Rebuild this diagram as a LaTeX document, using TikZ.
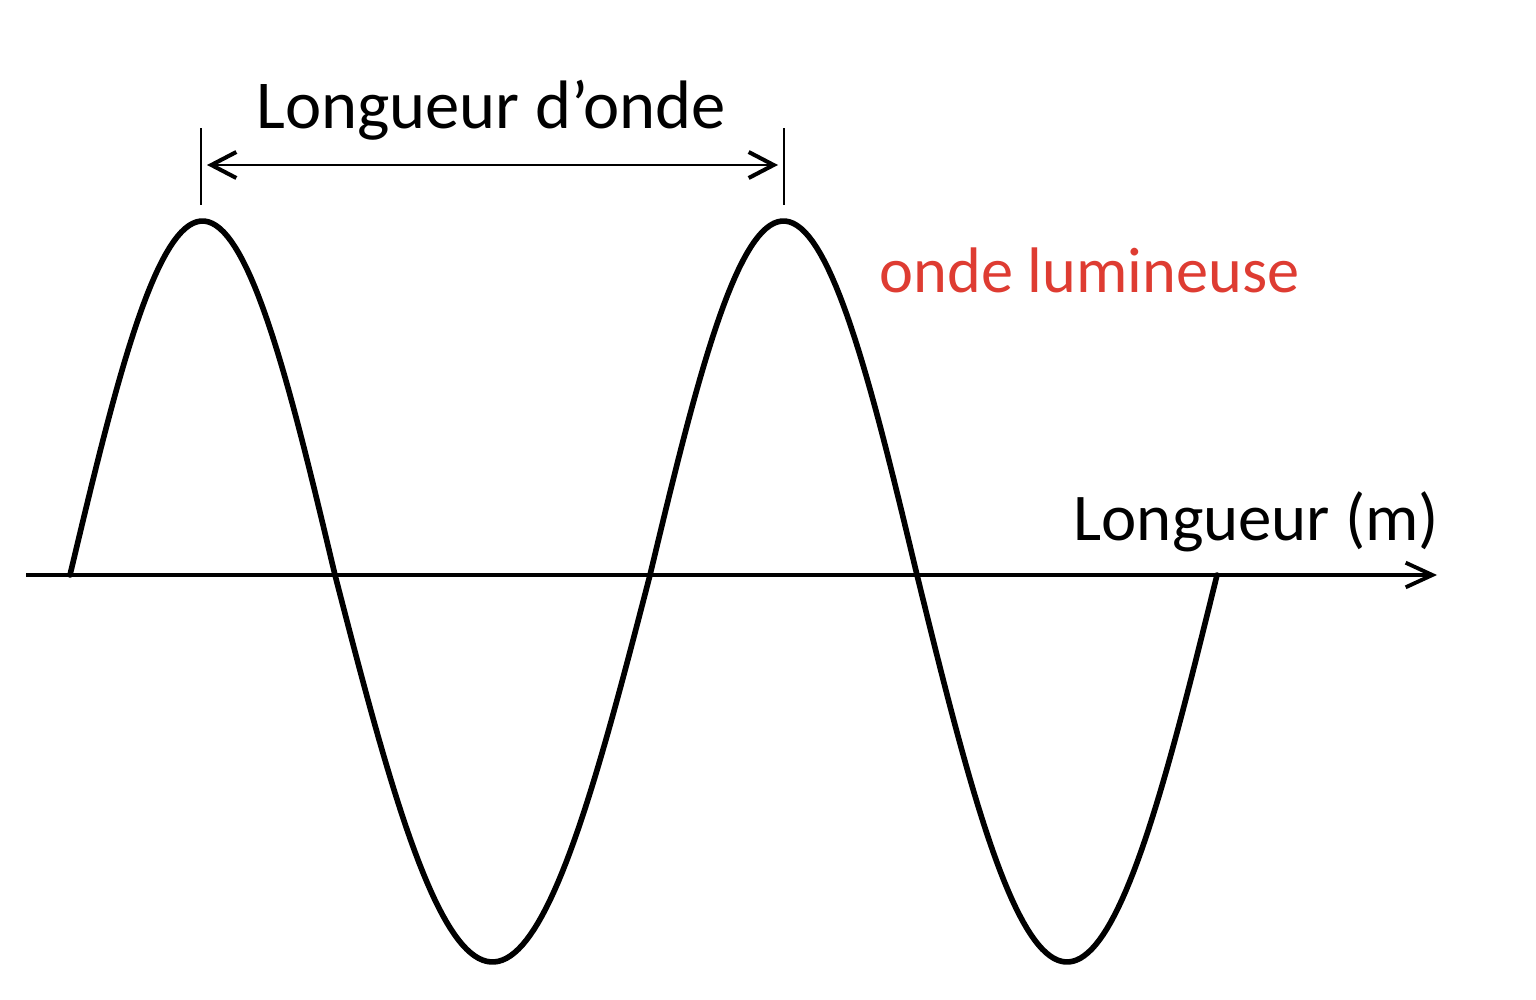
\documentclass[tikz,border=0pt]{standalone}
\usepackage{fontspec}
\setmainfont{Carlito}
\usetikzlibrary{arrows.meta}
\definecolor{wavered}{RGB}{222,60,50}
\begin{document}
\begin{tikzpicture}[x=0.01cm,y=-0.01cm,
  wave/.style={line width=1.6pt, line join=round, line cap=round},
  barb/.style={Straight Barb[length=7.2pt,width=7.4pt,line width=1.15pt]},
  axisline/.style={line width=0.9pt, -{Straight Barb[length=7.6pt,width=7pt,line width=1.1pt]}},
  dimline/.style={line width=0.85pt, {Straight Barb[length=7.1pt,width=7.4pt,line width=1.15pt]}-{Straight Barb[length=7.1pt,width=7.4pt,line width=1.15pt]}},
  tickline/.style={line width=0.6pt},
  lbl/.style={inner sep=0pt}]
\useasboundingbox (0,0) rectangle (1536,1000);
% axis
\coordinate (axL) at (26,575);
\coordinate (axR) at (1437,575);
\draw[axisline] (axL) -- (axR);
% wavelength marker
\coordinate (t1a) at (201,128);
\coordinate (t1b) at (201,205);
\coordinate (t2a) at (784,128);
\coordinate (t2b) at (784,205);
\draw[tickline] (t1a) -- (t1b);
\draw[tickline] (t2a) -- (t2b);
\coordinate (d1) at (207,165);
\coordinate (d2) at (778,165);
\draw[dimline] (d1) -- (d2);
% wave
\draw[wave] plot[domain=70:335,samples=70] (\x,{575-354*sin((\x-70)/265*180)})
  -- plot[domain=335:650,samples=80] (\x,{575+387*sin((\x-335)/315*180)})
  -- plot[domain=650:917,samples=70] (\x,{575-354*sin((\x-650)/267*180)})
  -- plot[domain=917:1217,samples=80] (\x,{575+387*sin((\x-917)/300*180)});
% labels
\node[lbl, anchor=base, font=\fontsize{19.5pt}{23pt}\selectfont] (title) at (491,128) {Longueur d’onde};
\node[lbl, anchor=base west, text=wavered, font=\fontsize{18.3pt}{22pt}\selectfont] (wname) at (879,292) {onde lumineuse};
\node[lbl, anchor=base east, font=\fontsize{19pt}{22pt}\selectfont] (axname) at (1440,540) {Longueur (m)};
\end{tikzpicture}
\end{document}
